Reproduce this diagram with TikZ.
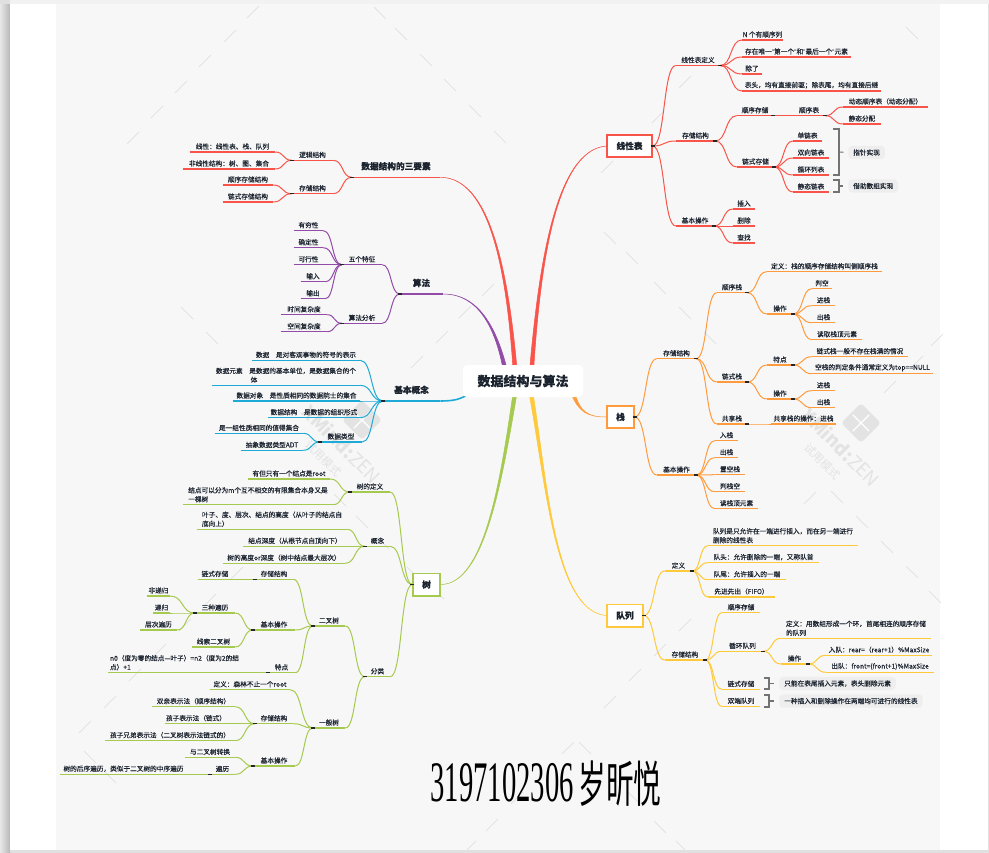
\documentclass[tikz,border=0pt]{standalone}
\usepackage{fontspec}
\setmainfont{Noto Sans CJK SC}[RawFeature={embolden=0.2}]
\newfontfamily\signfont{Liberation Serif}
\newfontfamily\signcjk{Noto Sans CJK SC}
\newfontfamily\quotefont{Liberation Sans}
\usetikzlibrary{calc}
\pgfdeclarelayer{page}
\pgfdeclarelayer{trunks}
\pgfsetlayers{page,trunks,main}
\definecolor{ink}{HTML}{1C2430}
\definecolor{canvas}{HTML}{F7F7F7}
\definecolor{wmgray}{HTML}{E3E3E3}
\definecolor{notefill}{HTML}{EEEEEE}
\definecolor{redb}{HTML}{F9544A}
\definecolor{orangeb}{HTML}{FF9B3D}
\definecolor{yellowb}{HTML}{FFC93C}
\definecolor{greenb}{HTML}{A6C94F}
\definecolor{blueb}{HTML}{1EAAD6}
\definecolor{purpleb}{HTML}{934BA8}
\colorlet{br}{redb}
\tikzset{
  topic/.style={anchor=south,inner xsep=0pt,inner ysep=1.6pt,text=ink,align=left,
    font=\fontsize{5}{6.75}\selectfont},
  head/.style={inner ysep=5pt,font=\fontsize{6.5}{8}\selectfont\bfseries},
  under/.style={draw=br,line width=.8pt},
  link/.style={draw=br,line width=.75pt},
  nub/.style={draw=black!85,line width=.9pt},
  mm/.style={to path={let \p1=(\tikztostart),\p2=(\tikztotarget),\n1={.55*(\x2-\x1)} in
    .. controls (\x1+\n1,\y1) and (\x2-\n1,\y2) .. (\tikztotarget)}},
  mainbox/.style={draw=#1,fill=white,line width=1pt,text=ink,inner sep=0pt,
    font=\fontsize{6.5}{8}\selectfont\bfseries},
  note/.style={anchor=west,fill=notefill,rounded corners=3pt,inner xsep=3.75pt,inner ysep=0pt,
    minimum height=10pt,text=ink,font=\fontsize{5}{6.75}\selectfont},
  brace/.style={draw=black!55,line width=.8pt},
  wmline/.style={draw=wmgray,line width=.6pt},
  wmtext/.style={text=wmgray,rotate=-45,inner sep=0pt},
}
% underlined topic: name, left x, right x, y of the line, text
\newcommand{\tp}[6][]{\node[topic,#1,minimum width={(#4-#3)*0.75pt}] (#2) at ({(#3+#4)/2},#5) {#6};
  \draw[under] (#2.south west) -- (#2.south east);}
\newcommand{\fanr}[2]{\foreach \kid in {#2} {\draw[link] (#1) to[mm] (\kid.south west);}
  \draw[nub] ($(#1)+(-2,0)$) -- ($(#1)+(2,0)$);}
\newcommand{\fanl}[2]{\foreach \kid in {#2} {\draw[link] (#1) to[mm] (\kid.south east);}
  \draw[nub] ($(#1)+(-2,0)$) -- ($(#1)+(2,0)$);}
\newcommand{\trunk}[5]{\filldraw[#1,line width=.4pt] (#2) .. controls (#3) and (#4) .. ($(#5)+(2,0)$)
  -- ($(#5)+(-2,0)$) .. controls ($(#4)+(-1.5,0)$) and ($(#3)+(-.5,0)$) .. (#2);}
\newcommand{\bracket}[5]{\draw[brace] (#3,#1) -- (#4,#1) -- (#4,#2) -- (#3,#2);
  \draw[brace,shorten >=3.5pt] (#4,{(#1+#2)/2}) -- (#5.west);}
\newcommand{\wmark}[3]{\node[fill=wmgray,rounded corners=2.5pt,rotate=45,minimum size=21pt,inner sep=0pt] (#1logo) at (#2,#3) {};
  \draw[white,line width=1pt,line cap=round] ($(#1logo)+(-8,-8)$) -- ($(#1logo)+(8,8)$);
  \draw[white,line width=1pt,line cap=round] ($(#1logo)+(-8,8)$) -- ($(#1logo)+(8,-8)$);
  \node[wmtext,font=\signcjk\fontsize{14}{14}\selectfont] (#1name) at ({#2-20},{#3+24}) {\textbf{XMind:}ZEN};
  \node[wmtext,font=\signcjk\fontsize{8.5}{9}\selectfont] (#1try) at ({#2-38},{#3+38}) {试用模式};}
\newcommand{\qm}{{\quotefont"}}
\begin{document}
\begin{tikzpicture}[x=0.75pt,y=-0.75pt]
\useasboundingbox (0,0) rectangle (989,853);
\begin{pgfonlayer}{page}
% page and canvas
\fill[black!12] (0,0) rectangle (989,853);
\shade[left color=black!9,right color=black!28] (0,4) rectangle (10,853);
\fill[black!5] (10,0) rectangle (989,4);
\fill[white] (10,4) rectangle (988,850);
\fill[canvas] (56,4) rectangle (940,850);
% watermark
\foreach \x/\y in {253/12,230/36,205/61,181/87,157/112,133/138,685/82,658/117,607/167,465/312,442/337,417/362,488/290,
  237/573,210/600,185/625,160/650,135/675,110/702,85/727,890/387,917/362,937/340,810/498,685/625,660/650,635/675,610/702,
  568/748,492/825,470/847,517/798}
  \draw[wmline] ({\x-6},{\y+6}) -- ({\x+6},{\y-6});
\foreach \x/\y in {380/13,401/34,426/60,450/85,475/111,500/137,187/313,212/338,912/33,610/238,632/258,660/288,685/313,710/338,
  340/500,362/522,383/543,413/573,438/593,90/757,110/777,862/522,887/547,912/572,935/597,837/497,585/748,633/797,660/827,682/847}
  \draw[wmline] ({\x-6},{\y-6}) -- ({\x+6},{\y+6});
\wmark{wa}{861}{423}
\wmark{wb}{362}{420}
\end{pgfonlayer}

% root and main boxes
\node[fill=white,rounded corners=3pt,minimum width=90pt,minimum height=24pt,inner sep=0pt,text=ink,font=\fontsize{9.75}{12}\selectfont\bfseries] (root) at (523,381) {数据结构与算法};
\node[mainbox=redb,minimum width=33.75pt,minimum height=16.5pt] (line) at (629.5,146) {线性表};
\node[mainbox=orangeb,minimum width=20.25pt,minimum height=16.5pt] (stack) at (620.5,417) {栈};
\node[mainbox=yellowb,minimum width=27pt,minimum height=17pt] (queue) at (625,615.5) {队列};
\node[mainbox=greenb,minimum width=20.25pt,minimum height=17pt] (tree) at (426.5,584.5) {树};

% linear list
\colorlet{br}{redb}
\tp{ldef}{676}{720}{65.5}{线性表定义}
\tp{la}{742}{783}{40}{N 个有顺序列}
\tp{lb}{742}{851}{57}{存在唯一\qm 第一个\qm 和\qm 最后一个\qm 元素}
\tp{lc}{742}{762}{74}{除了}
\tp{ld}{742}{881}{91}{表头，均有直接前驱；除表尾，均有直接后继}
\tp{lsto}{676}{715}{141}{存储结构}
\tp{lseq}{737}{773}{115.7}{顺序存储}
\tp{lseqt}{793}{825}{115.7}{顺序表}
\tp{lsa}{843}{928}{107}{动态顺序表（动态分配）}
\tp{lsb}{843}{881}{124}{静态分配}
\tp{lchn}{737}{774}{167}{链式存储}
\tp{lca}{793}{822}{141}{单链表}
\tp{lcb}{793}{829}{158}{双向链表}
\tp{lcc}{793}{829}{175}{循环列表}
\tp{lcd}{793}{829}{192}{静态链表}
\tp{lop}{676}{714}{226}{基本操作}
\tp{loa}{733}{755}{209}{插入}
\tp{lob}{733}{755}{226}{删除}
\tp{loc}{733}{755}{243}{查找}
\fanr{line.east}{ldef,lsto,lop}
\fanr{ldef.south east}{la,lb,lc,ld}
\fanr{lsto.south east}{lseq,lchn}
\fanr{lseq.south east}{lseqt}
\fanr{lseqt.south east}{lsa,lsb}
\fanr{lchn.south east}{lca,lcb,lcc,lcd}
\fanr{lop.south east}{loa,lob,loc}
\node[note] (nptr) at (848,152.5) {指针实现};
\node[note] (narr) at (848,186) {借助数组实现};
\bracket{129}{175}{833}{839}{nptr}
\bracket{180}{192}{833}{839}{narr}

% stack
\colorlet{br}{orangeb}
\tp{ssto}{657}{696}{358.7}{存储结构}
\tp{sseq}{717}{747}{292.7}{顺序栈}
\tp{ssdef}{767}{882}{271.7}{定义：栈的顺序存储结构叫侧顺序栈}
\tp{ssop}{767}{793}{314}{操作}
\tp{ssa}{812}{832}{288.7}{判空}
\tp{ssb}{812}{835}{305.7}{进栈}
\tp{ssc}{812}{835}{322.7}{出栈}
\tp{ssd}{812}{862}{339.7}{读取栈顶元素}
\tp{schn}{717}{747}{382}{链式栈}
\tp{scf}{767}{793}{365}{特点}
\tp{sca}{812}{908}{356.7}{链式栈一般不存在栈满的情况}
\tp{scb}{812}{933}{373.7}{空栈的判定条件通常定义为top==NULL}
\tp{scop}{767}{793}{399}{操作}
\tp{scc}{812}{835}{390.7}{进栈}
\tp{scd}{812}{835}{407.7}{出栈}
\tp{sshr}{717}{747}{424}{共享栈}
\tp{ssh}{771}{836}{424}{共享栈的操作：进栈}
\tp{sop}{657}{696}{475}{基本操作}
\tp{soa}{715}{738}{440.7}{入栈}
\tp{sob}{715}{738}{457.7}{出栈}
\tp{soc}{715}{745}{474.7}{置空栈}
\tp{sod}{715}{745}{491.7}{判栈空}
\tp{soe}{715}{758}{508.7}{读栈顶元素}
\fanr{stack.east}{ssto,sop}
\fanr{ssto.south east}{sseq,schn,sshr}
\fanr{sseq.south east}{ssdef,ssop}
\fanr{ssop.south east}{ssa,ssb,ssc,ssd}
\fanr{schn.south east}{scf,scop}
\fanr{scf.south east}{sca,scb}
\fanr{scop.south east}{scc,scd}
\fanr{sshr.south east}{ssh}
\fanr{sop.south east}{soa,sob,soc,sod,soe}

% queue
\colorlet{br}{yellowb}
\tp{qdef}{665}{692}{571}{定义}
\tp{qa}{708}{858}{545.7}{队列是只允许在一端进行插入，而在另一端进行\\删除的线性表}
\tp{qb}{708}{819}{562.7}{队头：允许删除的一端，又称队首}
\tp{qc}{708}{786}{579.7}{队尾：允许插入的一端}
\tp{qd}{708}{775}{597}{先进先出（FIFO）}
\tp{qsto}{665}{705}{660}{存储结构}
\tp{qseq}{722}{760}{612.7}{顺序存储}
\tp{qcir}{722}{763}{651.3}{循环队列}
\tp{qcd}{781}{931}{638.3}{定义：用数组形成一个环，首尾相连的顺序存储\\的队列}
\tp{qcop}{781}{808}{664}{操作}
\tp{qin}{826}{932}{655.3}{入队：rear=（rear+1）\%MaxSize}
\tp{qout}{826}{934}{672.3}{出队：front=(front+1)\%MaxSize}
\tp{qchn}{722}{760}{689.3}{链式存储}
\tp{qdbl}{722}{760}{706.3}{双端队列}
\fanr{queue.east}{qdef,qsto}
\fanr{qdef.south east}{qa,qb,qc,qd}
\fanr{qsto.south east}{qseq,qcir,qchn,qdbl}
\fanr{qcir.south east}{qcd,qcop}
\fanr{qcop.south east}{qin,qout}
\node[note] (nchn) at (779,683.5) {只能在表尾插入元素，表头删除元素};
\node[note] (ndbl) at (779,701) {一种插入和删除操作在两端均可进行的线性表};
\bracket{678}{689}{764}{769}{nchn}
\bracket{695}{707}{764}{769}{ndbl}

% three elements
\colorlet{br}{redb}
\tp[head]{tri}{352}{440}{177.3}{数据结构的三要素}
\tp{tlog}{292}{333}{160.3}{逻辑结构}
\tp{tla}{190}{275}{152}{线性：线性表、栈、队列}
\tp{tlb}{183}{275}{169}{非线性结构：树、图、集合}
\tp{tsto}{292}{333}{193.7}{存储结构}
\tp{tsa}{223}{273}{185}{顺序存储结构}
\tp{tsb}{223}{273}{202}{链式存储结构}
\fanl{tri.south west}{tlog,tsto}
\fanl{tlog.south west}{tla,tlb}
\fanl{tsto.south west}{tsa,tsb}

% algorithm
\colorlet{br}{purpleb}
\tp[head]{algo}{400}{443}{294}{算法}
\tp{afive}{342}{382}{264.7}{五个特征}
\tp{aa}{294}{323}{230.7}{有穷性}
\tp{ab}{294}{323}{247.7}{确定性}
\tp{ac}{294}{323}{264.7}{可行性}
\tp{ad}{301}{325}{281.7}{输入}
\tp{ae}{301}{325}{298.7}{输出}
\tp{acost}{342}{382}{323.3}{算法分析}
\tp{af}{281}{327}{314.7}{时间复杂度}
\tp{ag}{281}{327}{331.7}{空间复杂度}
\fanl{algo.south west}{afive,acost}
\fanl{afive.south west}{aa,ab,ac,ad,ae}
\fanl{acost.south west}{af,ag}

% basic concepts
\colorlet{br}{blueb}
\tp[head]{basic}{383}{440}{401}{基本概念}
\tp{ba}{252}{360}{360.3}{数据\quad 是对客观事物的符号的表示}
\tp{bb}{212}{360}{385.3}{数据元素\quad 是数据的基本单位，是数据集合的个\\\hspace*{26pt}体}
\tp{bc}{233}{360}{401}{数据对象\quad 是性质相同的数据院士的集合}
\tp{bd}{268}{360}{417.7}{数据结构\quad 是数据的组织形式}
\tp{btype}{320}{362}{442}{数据类型}
\tp{be}{215}{303}{433.3}{是一组性质相同的值得集合}
\tp{bf}{241}{303}{450.3}{抽象数据类型ADT}
\fanl{basic.south west}{ba,bb,bc,bd,btype}
\fanl{btype.south west}{be,bf}

% tree
\colorlet{br}{greenb}
\tp{gdef}{350}{390}{492}{树的定义}
\tp{ga}{248}{330}{479}{有但只有一个结点是root}
\tp{gb}{183}{333}{504.7}{结点可以分为m个互不相交的有限集合本身又是\\一棵树}
\tp{gcon}{365}{390}{546.3}{概念}
\tp{gc}{197}{347}{529.3}{叶子、度、层次、结点的高度（从叶子的结点自\\底向上）}
\tp{gd}{243}{347}{546.3}{结点深度（从根节点自顶向下）}
\tp{ge}{223}{345}{563.3}{树的高度or深度（树中结点最大层次）}
\tp{gcls}{365}{390}{676.7}{分类}
\tp{gbin}{313}{345}{626}{二叉树}
\tp{bsto}{255}{293}{579.3}{存储结构}
\tp{bchn}{198}{232}{579.3}{链式存储}
\tp{bop}{253}{295}{630}{基本操作}
\tp{btra}{195}{235}{613}{三种遍历}
\tp{bnr}{147}{170}{596}{非递归}
\tp{brec}{153}{170}{613}{递归}
\tp{blvl}{140}{177}{630}{层次遍历}
\tp{bthr}{192}{235}{647}{线索二叉树}
\tp{bfe}{268}{295}{672.7}{特点}
\tp{bn}{108}{241}{672.7}{n0（度为零的结点—叶子）=n2（度为2的结\\点）+1}
\tp{ggen}{313}{345}{728}{一般树}
\tp{fdef}{210}{290}{689.7}{定义：森林不止一个root}
\tp{fsto}{255}{293}{723.7}{存储结构}
\tp{fa}{152}{235}{706.7}{双亲表示法（顺序结构）}
\tp{fb}{165}{227}{723.7}{孩子表示法（链式）}
\tp{fc}{105}{235}{740.7}{孩子兄弟表示法（二叉树表示法链式的）}
\tp{fop}{253}{295}{766}{基本操作}
\tp{fd}{185}{235}{757.3}{与二叉树转换}
\tp{ftr}{210}{235}{774.3}{遍历}
\tp{fe}{60}{187}{774.3}{树的后序遍历，类似于二叉树的中序遍历}
\fanl{tree.west}{gdef,gcon,gcls}
\fanl{gdef.south west}{ga,gb}
\fanl{gcon.south west}{gc,gd,ge}
\fanl{gcls.south west}{gbin,ggen}
\fanl{gbin.south west}{bsto,bop,bfe}
\fanl{bsto.south west}{bchn}
\fanl{bop.south west}{btra,bthr}
\fanl{btra.south west}{bnr,brec,blvl}
\fanl{bfe.south west}{bn}
\fanl{ggen.south west}{fdef,fsto,fop}
\fanl{fsto.south west}{fa,fb,fc}
\fanl{fop.south west}{fd,ftr}
\fanl{ftr.south west}{fe}

% main branches, under the root box
\coordinate (ra) at ($(root.north)+(-18,4)$);
\coordinate (rb) at ($(root.north)+(-8,4)$);
\coordinate (rc) at ($(root.north)+(8.7,4)$);
\coordinate (rd) at ($(root.south)+(-8,-4)$);
\coordinate (re) at ($(root.south)+(8,-4)$);
\coordinate (rf) at ($(root.south)+(50,-4)$);
\begin{pgfonlayer}{trunks}
\trunk{redb}{tri.south east}{490,177.3}{508,270}{rb}
\trunk{redb}{line.west}{555,150}{540,270}{rc}
\trunk{purpleb}{algo.south east}{480,294}{497,330}{ra}
\trunk{greenb}{tree.east}{485,584.5}{502,480}{rd}
\trunk{yellowb}{queue.west}{555,612}{547,480}{re}
\trunk{orangeb}{stack.west}{588,417}{580,412}{rf}
\draw[blueb,line width=1.2pt] (basic.south east) .. controls (455,401) and (460,399) .. ($(root.south west)+(6,-3)$);
\end{pgfonlayer}

% signature
\node[inner sep=0pt,text=black] (signa) at (502,783) {\scalebox{.5}[1]{\signfont\fontsize{43}{43}\selectfont 3197102306}};
\node[inner sep=0pt,text=black] (signb) at (620,784) {\scalebox{.56}[1]{\signcjk\fontsize{37}{37}\selectfont 岁昕悦}};
\end{tikzpicture}
\end{document}
